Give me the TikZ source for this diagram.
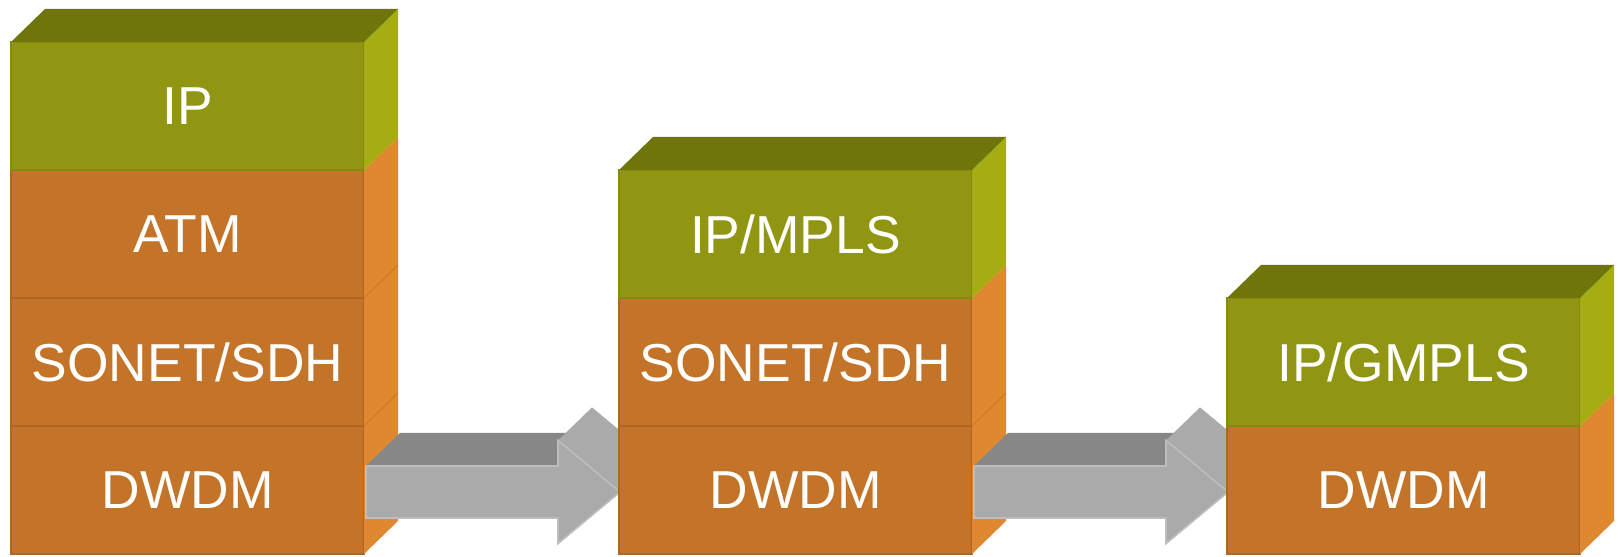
\documentclass[tikz,border=0pt]{standalone}
\usepackage{fontspec}
\setmainfont{Liberation Sans}
\usetikzlibrary{positioning}
\definecolor{gtop}{HTML}{6F7509}
\definecolor{gfront}{HTML}{919612}
\definecolor{gside}{HTML}{A6AD14}
\definecolor{gline}{HTML}{868B0F}
\definecolor{ofront}{HTML}{C47428}
\definecolor{oside}{HTML}{E08830}
\definecolor{oline}{HTML}{B0661F}
\definecolor{afront}{HTML}{AAAAAA}
\definecolor{atop}{HTML}{878787}
\definecolor{aline}{HTML}{BDBDBD}
\tikzset{
    layer/.style = {rectangle, minimum width=176.5pt, minimum height=64pt, inner sep=0pt, outer sep=0pt, text=white, font=\fontsize{26.7pt}{30pt}\selectfont, line width=0.8pt},
    layerg/.style = {layer, fill=gfront, draw=gline},
    layero/.style = {layer, fill=ofront, draw=oline},
    sideg/.style = {fill=gside},
    sideo/.style = {fill=oside},
    seam/.style = {draw=oline!45!oside, line width=0.5pt},
    topg/.style = {fill=gtop},
    arrowf/.style = {fill=afront, draw=aline, line width=0.8pt}, % front
    arrowt/.style = {fill=atop}, % shaft top
    arrowh/.style = {fill=afront} % head side
}
\begin{document}
\begin{tikzpicture}
  \useasboundingbox (0,0) rectangle (809pt,278.5pt);
  % stack 1
  \node[layero, anchor=south west] (dwdm1) at (5.5pt,1.5pt) {DWDM};
  \node[layero, above=0pt of dwdm1] (sonet1) {SONET/SDH};
  \node[layero, above=0pt of sonet1] (atm1) {ATM};
  \node[layerg, above=0pt of atm1] (ip1) {IP};
  \fill[sideo] (dwdm1.south east) -- (atm1.north east) -- ++(17pt,16.5pt) -- ([shift={(17pt,16.5pt)}]dwdm1.south east) -- cycle;
  \fill[sideg] (ip1.south east) -- (ip1.north east) -- ++(17pt,16.5pt) -- ([shift={(17pt,16.5pt)}]ip1.south east) -- cycle;
  \fill[topg] (ip1.north west) -- ++(17pt,16.5pt) -- ([shift={(17pt,16.5pt)}]ip1.north east) -- (ip1.north east) -- cycle;
  \draw[seam] (dwdm1.north east) -- ++(17pt,16.5pt);
  \draw[seam] (sonet1.north east) -- ++(17pt,16.5pt);

  \coordinate (a1) at ([yshift=-1pt]dwdm1.east);
  \fill[arrowt] (a1) ++(1pt,13pt) -- ++(17pt,16.5pt) -- ++(96pt,0) -- ++(-17pt,-16.5pt) -- cycle;
  \fill[arrowh] (a1) ++(97pt,25.8pt) -- ++(17pt,16.5pt) -- ++(31pt,-25.8pt) -- ++(-17pt,-16.5pt) -- cycle;
  \filldraw[arrowf] (a1) ++(1pt,13pt) -- ++(96pt,0) -- ++(0,12.8pt) -- ++(31pt,-25.8pt) -- ++(-31pt,-25.8pt) -- ++(0,12.8pt) -- ++(-96pt,0) -- cycle;

  % stack 2
  \node[layero, anchor=south west] (dwdm2) at (309.5pt,1.5pt) {DWDM};
  \node[layero, above=0pt of dwdm2] (sonet2) {SONET/SDH};
  \node[layerg, above=0pt of sonet2] (ip2) {IP/MPLS};
  \fill[sideo] (dwdm2.south east) -- (sonet2.north east) -- ++(17pt,16.5pt) -- ([shift={(17pt,16.5pt)}]dwdm2.south east) -- cycle;
  \fill[sideg] (ip2.south east) -- (ip2.north east) -- ++(17pt,16.5pt) -- ([shift={(17pt,16.5pt)}]ip2.south east) -- cycle;
  \fill[topg] (ip2.north west) -- ++(17pt,16.5pt) -- ([shift={(17pt,16.5pt)}]ip2.north east) -- (ip2.north east) -- cycle;
  \draw[seam] (dwdm2.north east) -- ++(17pt,16.5pt);

  \coordinate (a2) at ([yshift=-1pt]dwdm2.east);
  \fill[arrowt] (a2) ++(1pt,13pt) -- ++(17pt,16.5pt) -- ++(96pt,0) -- ++(-17pt,-16.5pt) -- cycle;
  \fill[arrowh] (a2) ++(97pt,25.8pt) -- ++(17pt,16.5pt) -- ++(31pt,-25.8pt) -- ++(-17pt,-16.5pt) -- cycle;
  \filldraw[arrowf] (a2) ++(1pt,13pt) -- ++(96pt,0) -- ++(0,12.8pt) -- ++(31pt,-25.8pt) -- ++(-31pt,-25.8pt) -- ++(0,12.8pt) -- ++(-96pt,0) -- cycle;

  % stack 3
  \node[layero, anchor=south west] (dwdm3) at (613.5pt,1.5pt) {DWDM};
  \node[layerg, above=0pt of dwdm3] (ip3) {IP/GMPLS};
  \fill[sideo] (dwdm3.south east) -- (dwdm3.north east) -- ++(17pt,16.5pt) -- ([shift={(17pt,16.5pt)}]dwdm3.south east) -- cycle;
  \fill[sideg] (ip3.south east) -- (ip3.north east) -- ++(17pt,16.5pt) -- ([shift={(17pt,16.5pt)}]ip3.south east) -- cycle;
  \fill[topg] (ip3.north west) -- ++(17pt,16.5pt) -- ([shift={(17pt,16.5pt)}]ip3.north east) -- (ip3.north east) -- cycle;
\end{tikzpicture}
\end{document}
